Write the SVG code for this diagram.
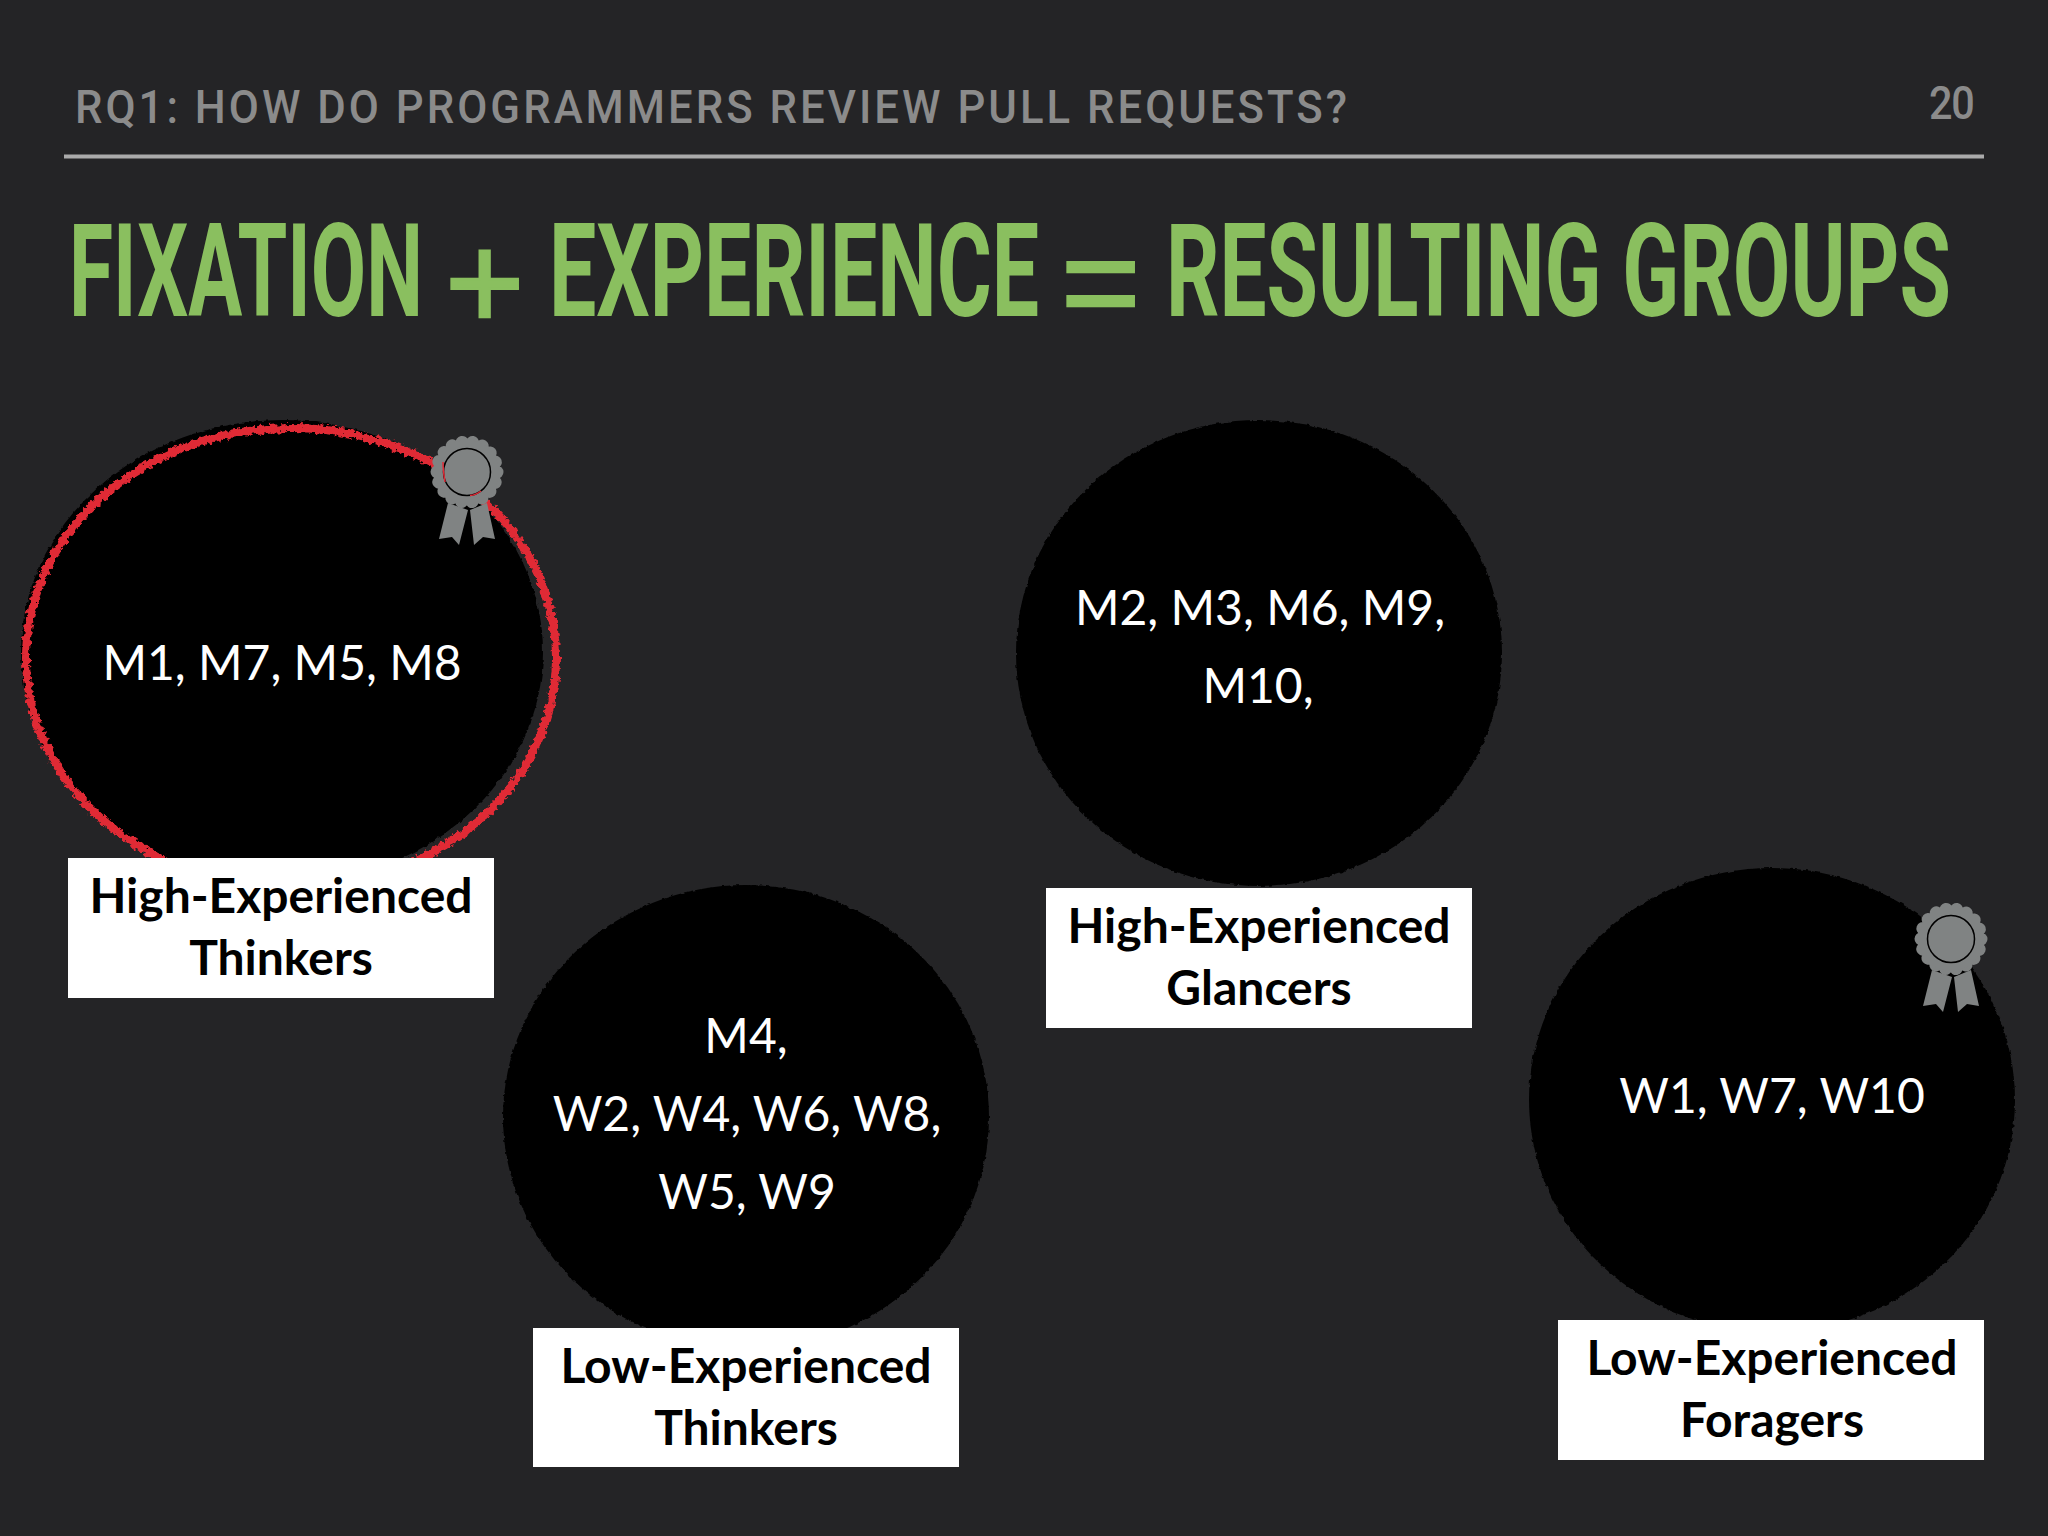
<svg xmlns="http://www.w3.org/2000/svg" width="2048" height="1536" viewBox="0 0 2048 1536">
<style>
.hdr{font-family:"Roboto","Liberation Sans",sans-serif;font-size:46px;font-weight:500;fill:#8b8b8b}
.ttl{font-family:"Liberation Sans Narrow","Roboto","Liberation Sans",sans-serif;font-size:130px;font-weight:700;fill:#8abf5f}
.op{font-family:"Liberation Sans",sans-serif;font-size:136px;font-weight:400;fill:#8abf5f;stroke:#8abf5f;stroke-width:2.500px}
.blob{fill:#000;filter:url(#rough)}
.lbl{fill:#fff}
.who{font-family:"Lato","Noto Sans",sans-serif;font-size:48px;fill:#fff;text-anchor:middle}
.cap{font-family:"Lato","Noto Sans",sans-serif;font-size:48px;font-weight:700;fill:#000;text-anchor:middle}
.rib{fill:#808383}
</style>
<defs>
<filter id="rough" x="-5%" y="-5%" width="110%" height="110%">
<feTurbulence type="fractalNoise" baseFrequency="0.2" numOctaves="2" seed="3"/>
<feDisplacementMap in="SourceGraphic" scale="3.500" xChannelSelector="R" yChannelSelector="G"/>
</filter>
<filter id="chalk" x="-5%" y="-5%" width="110%" height="110%">
<feTurbulence type="fractalNoise" baseFrequency="0.22" numOctaves="3" seed="7"/>
<feDisplacementMap in="SourceGraphic" scale="8" xChannelSelector="R" yChannelSelector="G"/>
</filter>
<g id="rosette">
<polygon class="rib" points="448,503 468,510 459,545 452,537 439,539"/>
<polygon class="rib" points="470,510 487,503 495,539 483,537 474,545"/>
<circle cx="467" cy="472" r="30" fill="#808383" stroke="#808383" stroke-width="13" stroke-linecap="round" stroke-dasharray="0.1 10.37"/>
<circle cx="467" cy="472" r="32" fill="#808383"/>
<circle cx="467" cy="472" r="23.5" fill="none" stroke="#000" stroke-width="1.500"/>
</g>
</defs>
<rect width="2048" height="1536" fill="#242426"/>
<g id="header">
<text class="hdr" transform="translate(75 123) scale(.95 1)" textLength="1339" lengthAdjust="spacing">RQ1: HOW DO PROGRAMMERS REVIEW PULL REQUESTS?</text>
<text class="hdr" transform="translate(1929 119) scale(.9 1)" textLength="51" lengthAdjust="spacing">20</text>
<rect x="64" y="154.500" width="1920" height="4" fill="#aaaaaa"/>
<text class="ttl" transform="translate(69 316) scale(.57 1)" textLength="621" lengthAdjust="spacingAndGlyphs">FIXATION</text>
<text class="op" x="445" y="329">+</text>
<text class="ttl" transform="translate(549 316) scale(.57 1)" textLength="860" lengthAdjust="spacingAndGlyphs">EXPERIENCE</text>
<text class="op" x="1061" y="329">=</text>
<text class="ttl" transform="translate(1166 316) scale(.57 1)" textLength="1377" lengthAdjust="spacingAndGlyphs">RESULTING GROUPS</text>
</g>
<g id="connectors"/>
<g id="node-high-thinkers">
<ellipse class="blob" cx="282" cy="652" rx="261" ry="232"/>
<ellipse cx="291" cy="658" rx="265" ry="230" fill="none" stroke="#e02a36" stroke-width="8" filter="url(#chalk)"/>
<use href="#rosette"/>
<path d="M443 462Q443 470 445 482M470 495.500Q476 495 481 491" fill="none" stroke="#e02a36" stroke-width="1.500"/>
<text class="who" x="282" y="680">M1, M7, M5, M8</text>
<rect class="lbl" x="68" y="858" width="426" height="140"/>
<text class="cap" x="281" y="913">High-Experienced</text>
<text class="cap" x="281" y="975">Thinkers</text>
</g>
<g id="node-high-glancers">
<ellipse class="blob" cx="1259" cy="653" rx="243" ry="233"/>
<text class="who" x="1260" y="625">M2, M3, M6, M9,</text>
<text class="who" x="1258" y="703">M10,</text>
<rect class="lbl" x="1046" y="888" width="426" height="140"/>
<text class="cap" x="1259" y="943">High-Experienced</text>
<text class="cap" x="1259" y="1005">Glancers</text>
</g>
<g id="node-low-thinkers">
<ellipse class="blob" cx="746" cy="1117" rx="243" ry="232"/>
<text class="who" x="746" y="1053">M4,</text>
<text class="who" x="747" y="1131">W2, W4, W6, W8,</text>
<text class="who" x="747" y="1209">W5, W9</text>
<rect class="lbl" x="533" y="1328" width="426" height="139"/>
<text class="cap" x="746" y="1383">Low-Experienced</text>
<text class="cap" x="746" y="1445">Thinkers</text>
</g>
<g id="node-low-foragers">
<ellipse class="blob" cx="1772" cy="1100" rx="243" ry="232"/>
<use href="#rosette" x="1484" y="467"/>
<text class="who" x="1772" y="1113">W1, W7, W10</text>
<rect class="lbl" x="1558" y="1320" width="426" height="140"/>
<text class="cap" x="1772" y="1375">Low-Experienced</text>
<text class="cap" x="1772" y="1437">Foragers</text>
</g>
</svg>
